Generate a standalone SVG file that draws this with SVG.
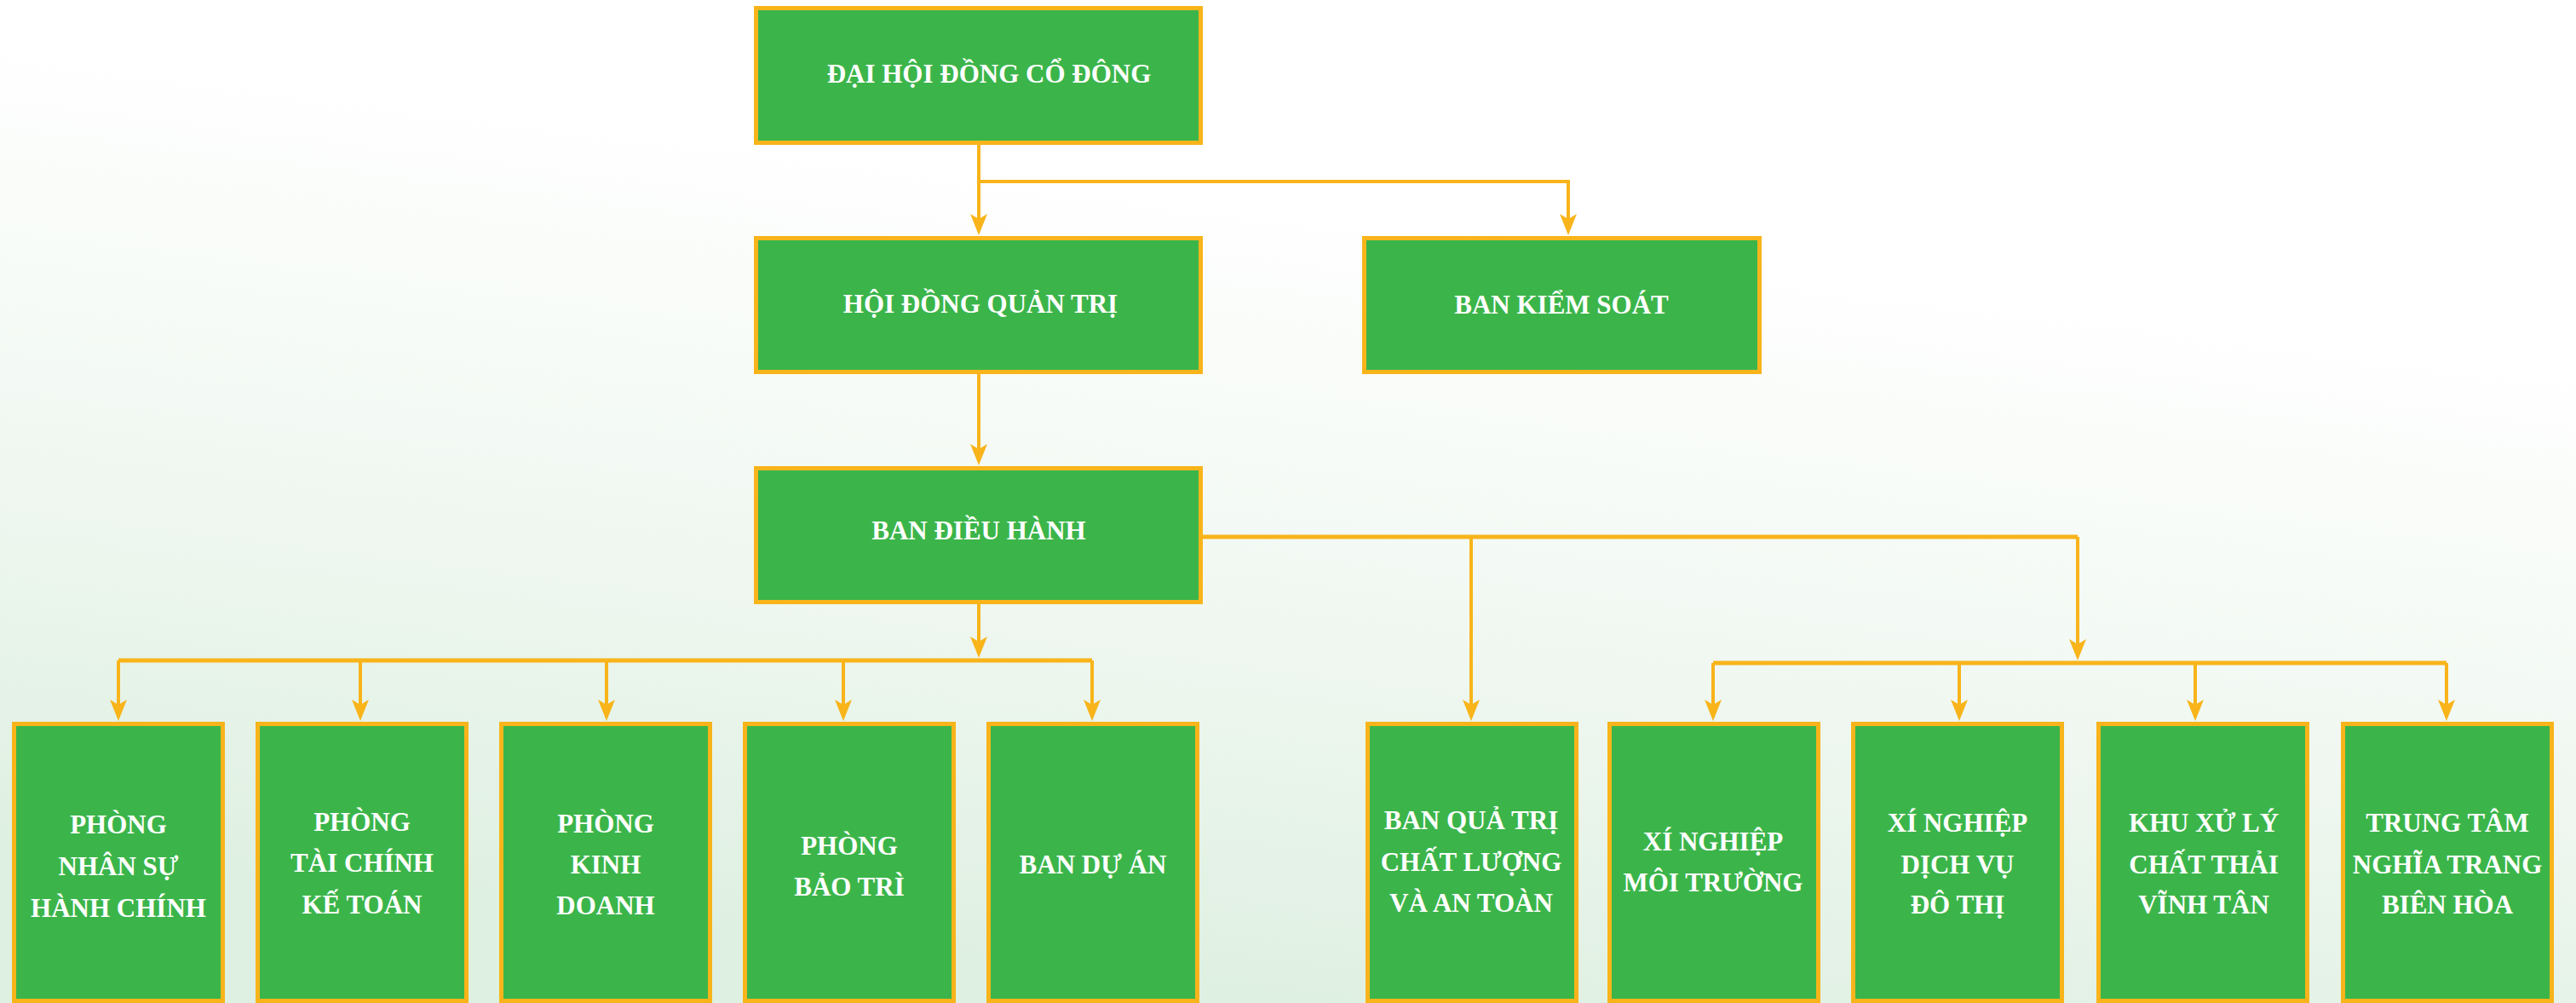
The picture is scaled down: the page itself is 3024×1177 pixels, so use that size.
<svg xmlns="http://www.w3.org/2000/svg" width="3024" height="1177" viewBox="0 0 3024 1177">
<defs>
<linearGradient id="bg" gradientUnits="userSpaceOnUse" x1="1600" y1="0" x2="1450" y2="1177">
<stop offset="0" stop-color="#ffffff"/>
<stop offset="0.2" stop-color="#ffffff"/>
<stop offset="0.6" stop-color="#f1f8f2"/>
<stop offset="1" stop-color="#def0e1"/>
</linearGradient>
<marker id="arr" markerUnits="userSpaceOnUse" markerWidth="26" markerHeight="22" viewBox="0 0 26 22" refX="11" refY="11" orient="auto">
<path d="M0,1 L25,11 L0,21 L6,11 Z" fill="#F8B41A"/>
</marker>
<style>
.box{fill:#3BB54A;stroke:#F8B41A;stroke-width:5}
.lbl{font-family:"Liberation Serif","Times New Roman",serif;font-weight:bold;font-size:31px;fill:#ffffff;text-anchor:middle}
.ln{fill:none;stroke:#F8B41A;stroke-width:5}
.la{fill:none;stroke:#F8B41A;stroke-width:4;marker-end:url(#arr)}
</style>
</defs>
<rect x="0" y="0" width="3024" height="1177" fill="url(#bg)"/>

<g id="connectors">
<path class="la" d="M1149,170 V262"/>
<path class="la" d="M1149,213 H1841 V262"/>
<path class="la" d="M1149,439 V532"/>
<path class="la" d="M1149,709 V758"/>
<path class="ln" d="M139,775 H1282"/>
<path class="la" d="M139,775 V832"/>
<path class="la" d="M423,775 V832"/>
<path class="la" d="M712,775 V832"/>
<path class="la" d="M990,775 V832"/>
<path class="la" d="M1282,775 V832"/>
<path class="ln" d="M1412,630 H2439"/>
<path class="la" d="M2439,630 V761"/>
<path class="la" d="M1727,630 V832"/>
<path class="ln" d="M2011,778 H2872"/>
<path class="la" d="M2011,778 V832"/>
<path class="la" d="M2300,778 V832"/>
<path class="la" d="M2577,778 V832"/>
<path class="la" d="M2872,778 V832"/>
</g>

<g id="dhdcd">
<rect class="box" x="887.5" y="9.5" width="522" height="158"/>
<text class="lbl" x="1161" y="97">ĐẠI HỘI ĐỒNG CỔ ĐÔNG</text>
</g>
<g id="hdqt">
<rect class="box" x="887.5" y="279.5" width="522" height="157"/>
<text class="lbl" x="1151" y="367">HỘI ĐỒNG QUẢN TRỊ</text>
</g>
<g id="bks">
<rect class="box" x="1601.5" y="279.5" width="464" height="157"/>
<text class="lbl" x="1833" y="368">BAN KIỂM SOÁT</text>
</g>
<g id="bdh">
<rect class="box" x="887.5" y="549.5" width="522" height="157"/>
<text class="lbl" x="1149" y="633">BAN ĐIỀU HÀNH</text>
</g>

<g id="pnshc">
<rect class="box" x="16.5" y="849.5" width="245" height="325"/>
<text class="lbl" x="139" y="978">PHÒNG</text>
<text class="lbl" x="139" y="1027">NHÂN SỰ</text>
<text class="lbl" x="139" y="1076">HÀNH CHÍNH</text>
</g>
<g id="ptckt">
<rect class="box" x="302.5" y="849.5" width="245" height="325"/>
<text class="lbl" x="425" y="975">PHÒNG</text>
<text class="lbl" x="425" y="1023">TÀI CHÍNH</text>
<text class="lbl" x="425" y="1072">KẾ TOÁN</text>
</g>
<g id="pkd">
<rect class="box" x="588.5" y="849.5" width="245" height="325"/>
<text class="lbl" x="711" y="977">PHÒNG</text>
<text class="lbl" x="711" y="1025">KINH</text>
<text class="lbl" x="711" y="1073">DOANH</text>
</g>
<g id="pbt">
<rect class="box" x="874.5" y="849.5" width="245" height="325"/>
<text class="lbl" x="997" y="1003">PHÒNG</text>
<text class="lbl" x="997" y="1051">BẢO TRÌ</text>
</g>
<g id="bda">
<rect class="box" x="1160.5" y="849.5" width="245" height="325"/>
<text class="lbl" x="1283" y="1025">BAN DỰ ÁN</text>
</g>

<g id="bqtcl">
<rect class="box" x="1605.5" y="849.5" width="245" height="325"/>
<text class="lbl" x="1727" y="973">BAN QUẢ TRỊ</text>
<text class="lbl" x="1727" y="1022">CHẤT LƯỢNG</text>
<text class="lbl" x="1727" y="1070">VÀ AN TOÀN</text>
</g>
<g id="xnmt">
<rect class="box" x="1889.5" y="849.5" width="245" height="325"/>
<text class="lbl" x="2011" y="998">XÍ NGHIỆP</text>
<text class="lbl" x="2011" y="1046">MÔI TRƯỜNG</text>
</g>
<g id="xndvdt">
<rect class="box" x="2175.5" y="849.5" width="245" height="325"/>
<text class="lbl" x="2298" y="976">XÍ NGHIỆP</text>
<text class="lbl" x="2298" y="1025">DỊCH VỤ</text>
<text class="lbl" x="2298" y="1072">ĐÔ THỊ</text>
</g>
<g id="kxlct">
<rect class="box" x="2463.5" y="849.5" width="245" height="325"/>
<text class="lbl" x="2587" y="976">KHU XỬ LÝ</text>
<text class="lbl" x="2587" y="1025">CHẤT THẢI</text>
<text class="lbl" x="2587" y="1072">VĨNH TÂN</text>
</g>
<g id="ttnt">
<rect class="box" x="2750.5" y="849.5" width="245" height="325"/>
<text class="lbl" x="2873" y="976">TRUNG TÂM</text>
<text class="lbl" x="2873" y="1025">NGHĨA TRANG</text>
<text class="lbl" x="2873" y="1072">BIÊN HÒA</text>
</g>
</svg>
